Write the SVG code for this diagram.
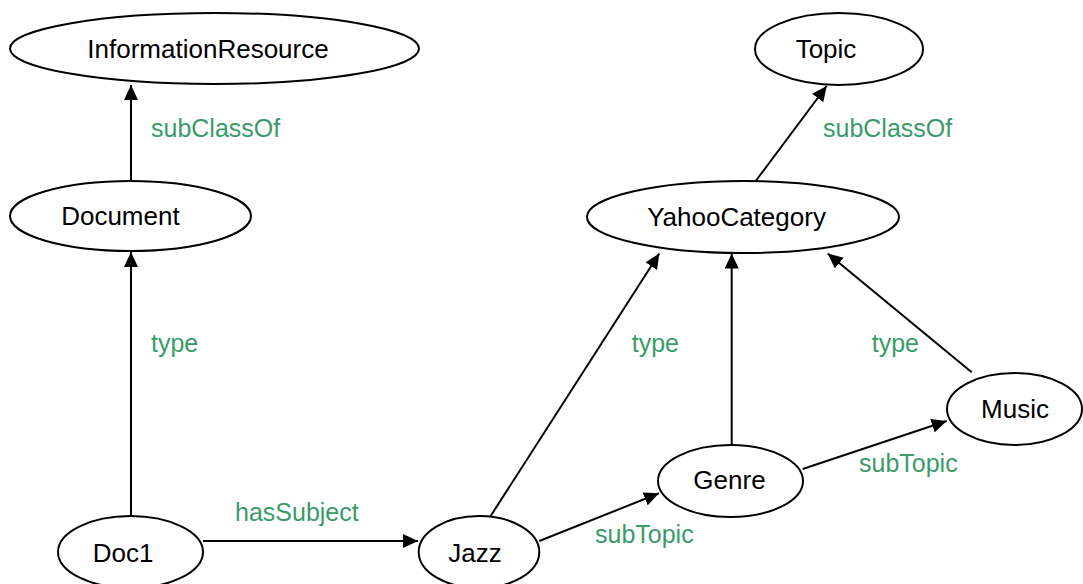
<svg xmlns="http://www.w3.org/2000/svg" width="1083" height="584" viewBox="0 0 1083 584">
<defs>
<marker id="arr" markerUnits="userSpaceOnUse" markerWidth="16" markerHeight="14" refX="15" refY="7" orient="auto">
<path d="M0,0 L15,7 L0,14 z" fill="#000"/>
</marker>
<style>
.node ellipse{fill:#fff;stroke:#000;stroke-width:2}
.node text{font-family:"Liberation Sans",Arial,sans-serif;font-size:26px;fill:#000;text-anchor:middle}
.edges line{stroke:#000;stroke-width:2;fill:none}
.lbl{font-family:"Liberation Sans",Arial,sans-serif;font-size:25px;fill:#3a9b69}
</style>
</defs>
<rect width="1083" height="584" fill="#fff"/>
<g class="edges" id="connectors">
<line x1="131" y1="181" x2="131" y2="85" marker-end="url(#arr)"/>
<line x1="131" y1="516" x2="131" y2="252" marker-end="url(#arr)"/>
<line x1="755.7" y1="181" x2="826.7" y2="86" marker-end="url(#arr)"/>
<line x1="203" y1="541" x2="418" y2="541" marker-end="url(#arr)"/>
<line x1="490" y1="517" x2="659.3" y2="253.5" marker-end="url(#arr)"/>
<line x1="731.7" y1="445" x2="731.7" y2="253.5" marker-end="url(#arr)"/>
<line x1="971.7" y1="372.3" x2="827.7" y2="253.5" marker-end="url(#arr)"/>
<line x1="539.3" y1="541" x2="659" y2="493.3" marker-end="url(#arr)"/>
<line x1="802.7" y1="469" x2="946.7" y2="421" marker-end="url(#arr)"/>
<text class="lbl" x="151" y="137">subClassOf</text>
<text class="lbl" x="823" y="137">subClassOf</text>
<text class="lbl" x="151" y="352">type</text>
<text class="lbl" x="631.7" y="352">type</text>
<text class="lbl" x="871.7" y="352">type</text>
<text class="lbl" x="235" y="521">hasSubject</text>
<text class="lbl" x="595" y="543">subTopic</text>
<text class="lbl" x="859" y="472">subTopic</text>
</g>
<g class="node" id="InformationResource">
<ellipse cx="214.5" cy="48.5" rx="204.5" ry="35.5"/>
<text x="208" y="58">InformationResource</text>
</g>
<g class="node" id="Document">
<ellipse cx="130.5" cy="216" rx="120.5" ry="35"/>
<text x="120.4" y="225">Document</text>
</g>
<g class="node" id="Topic">
<ellipse cx="839" cy="49" rx="84" ry="36"/>
<text x="826" y="58">Topic</text>
</g>
<g class="node" id="YahooCategory">
<ellipse cx="743" cy="217" rx="156" ry="36"/>
<text x="736.5" y="226">YahooCategory</text>
</g>
<g class="node" id="Doc1">
<ellipse cx="130.5" cy="552" rx="72.5" ry="36"/>
<text x="123" y="562">Doc1</text>
</g>
<g class="node" id="Jazz">
<ellipse cx="479" cy="552" rx="60.3" ry="36"/>
<text x="475" y="562">Jazz</text>
</g>
<g class="node" id="Genre">
<ellipse cx="730.5" cy="481" rx="72.5" ry="36"/>
<text x="729.5" y="489">Genre</text>
</g>
<g class="node" id="Music">
<ellipse cx="1014.5" cy="409" rx="67.5" ry="36"/>
<text x="1015" y="418">Music</text>
</g>
</svg>
